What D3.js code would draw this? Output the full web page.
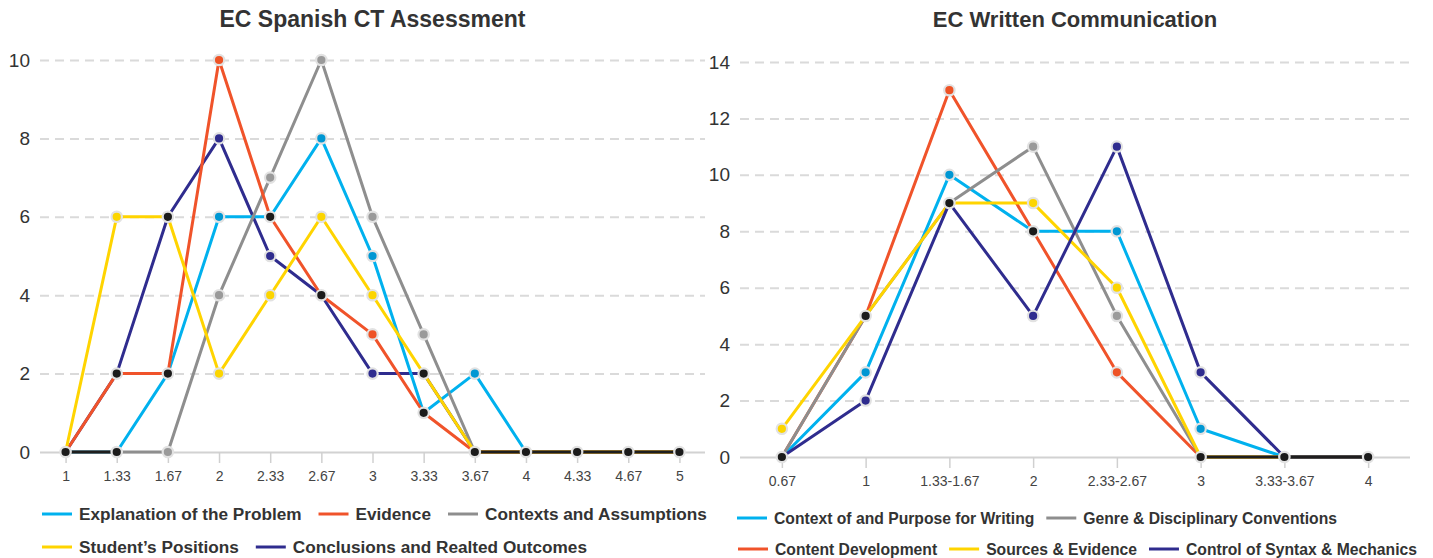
<!DOCTYPE html>
<html><head><meta charset="utf-8">
<script src="https://cdn.jsdelivr.net/npm/d3@7"></script>
<style>body{margin:0;background:#fff}svg{display:block;font-family:"Liberation Sans",Arial,Helvetica,sans-serif}</style>
</head><body>
<svg id="chart" width="1433" height="558"></svg>
<script>
// ---------- DATA ----------
const spanishTitle = "EC Spanish CT Assessment";
const spanishCategories = ["1","1.33","1.67","2","2.33","2.67","3","3.33","3.67","4","4.33","4.67","5"];
const spanishExplanation = [0,0,2,6,6,8,5,1,2,0,0,0,0];
const spanishEvidence    = [0,2,2,10,6,4,3,1,0,0,0,0,0];
const spanishContexts    = [0,0,0,4,7,10,6,3,0,0,0,0,0];
const spanishPositions   = [0,6,6,2,4,6,4,2,0,0,0,0,0];
const spanishConclusions = [0,2,6,8,5,4,2,2,0,0,0,0,0];
const spanishYTicks = [0,2,4,6,8,10];

const writtenTitle = "EC Written Communication";
const writtenCategories = ["0.67","1","1.33-1.67","2","2.33-2.67","3","3.33-3.67","4"];
const writtenContext = [0,3,10,8,8,1,0,0];
const writtenGenre   = [0,5,9,11,5,0,0,0];
const writtenContent = [0,5,13,8,3,0,0,0];
const writtenSources = [1,5,9,9,6,0,0,0];
const writtenSyntax  = [0,2,9,5,11,3,0,0];
const writtenYTicks = [0,2,4,6,8,10,12,14];

// ---------- STYLE ----------
const C = {
  blue:   {line:"#00b1ee", dot:"#0097d3"},
  red:    {line:"#f0532a", dot:"#ee5326"},
  gray:   {line:"#8e8e8e", dot:"#9a9a9a"},
  yellow: {line:"#ffd400", dot:"#fcd500"},
  navy:   {line:"#2f2c8e", dot:"#2f2c8e"}
};
const svg = d3.select("#chart");

function drawChart(cfg){
  const g = svg.append("g");
  const x = d3.scalePoint().domain(cfg.categories).range([cfg.x0, cfg.x1]).padding(0.5);
  const y = d3.scaleLinear().domain([0, d3.max(cfg.yTicks)]).range([cfg.y0, cfg.y1]);

  // y grid + labels
  const ga = g.append("g").attr("transform", `translate(${cfg.x0},0)`)
    .call(d3.axisLeft(y).tickValues(cfg.yTicks).tickSize(-(cfg.x1 - cfg.x0)).tickPadding(10));
  ga.select(".domain").remove();
  ga.selectAll(".tick line")
    .attr("stroke", d => d === 0 ? "#d2d2d2" : "#dadada")
    .attr("stroke-width", 2)
    .attr("stroke-dasharray", d => d === 0 ? null : "9,6");
  ga.selectAll(".tick text").attr("font-size", 19).attr("fill", "#333")
    .attr("font-family", '"Liberation Sans",Arial,sans-serif');

  // x axis ticks + labels
  const gx = g.append("g").attr("transform", `translate(0,${cfg.y0})`)
    .call(d3.axisBottom(x).tickSize(11).tickPadding(8));
  gx.select(".domain").remove();
  gx.selectAll(".tick line").attr("stroke", "#d0d0d0").attr("stroke-width", 1.5);
  gx.selectAll(".tick text").attr("font-size", 14).attr("fill", "#444")
    .attr("font-family", '"Liberation Sans",Arial,sans-serif');

  // title
  g.append("text").attr("x", (cfg.x0 + cfg.x1) / 2).attr("y", 27)
    .attr("text-anchor", "middle").attr("font-size", cfg.titleSize).attr("font-weight", "bold")
    .attr("fill", "#333").text(cfg.title);

  const line = d3.line().x(d => x(d.c)).y(d => y(d.v));
  const toPts = vals => vals.map((v, i) => ({c: cfg.categories[i], v}));

  // series lines in draw order
  cfg.drawOrder.forEach(idx => {
    const s = cfg.series[idx];
    g.append("path").datum(toPts(s.values)).attr("d", line)
      .attr("fill", "none").attr("stroke", s.color.line).attr("stroke-width", 3)
      .attr("stroke-linejoin", "round");
  });

  // shared zero segments drawn black
  const n = cfg.categories.length;
  for (let i = 0; i < n - 1; i++) {
    const cnt = cfg.series.filter(s => s.values[i] === 0 && s.values[i + 1] === 0).length;
    if (cnt >= 2) {
      g.append("path").datum([{c: cfg.categories[i], v: 0}, {c: cfg.categories[i + 1], v: 0}])
        .attr("d", line).attr("stroke", "#1e1e1e").attr("stroke-width", 3.2).attr("fill", "none");
    }
  }

  // dots: shared values -> black
  const dots = [];
  cfg.categories.forEach((c, i) => {
    const groups = d3.group(cfg.series, s => s.values[i]);
    groups.forEach((arr, v) => {
      dots.push({c, v, fill: arr.length >= 2 ? "#1b1b1b" : arr[0].color.dot, shared: arr.length >= 2});
    });
  });
  dots.sort((a, b) => a.shared - b.shared);
  g.selectAll("circle.pt").data(dots).join("circle").attr("class", "pt")
    .attr("cx", d => x(d.c)).attr("cy", d => y(d.v)).attr("r", 5.2)
    .attr("fill", d => d.fill).attr("stroke", "#e2e2e2").attr("stroke-width", 2.2);

  // legend
  cfg.legendRows.forEach(row => {
    let lx = row.x;
    row.items.forEach(idx => {
      const s = cfg.series[idx];
      g.append("line").attr("x1", lx).attr("x2", lx + 30).attr("y1", row.y).attr("y2", row.y)
        .attr("stroke", s.color.line).attr("stroke-width", 3);
      const t = g.append("text").attr("x", lx + 37).attr("y", row.y).attr("dy", "0.36em")
        .attr("font-size", cfg.legendSize).attr("font-weight", "bold").attr("fill", "#333").text(s.name);
      lx = lx + 37 + t.node().getComputedTextLength() + cfg.legendGap;
    });
  });
}

drawChart({
  title: spanishTitle, titleSize: 23,
  categories: spanishCategories,
  yTicks: spanishYTicks,
  x0: 40, x1: 705, y0: 452, y1: 60,
  series: [
    {name: "Explanation of the Problem", values: spanishExplanation, color: C.blue},
    {name: "Evidence", values: spanishEvidence, color: C.red},
    {name: "Contexts and Assumptions", values: spanishContexts, color: C.gray},
    {name: "Student\u2019s Positions", values: spanishPositions, color: C.yellow},
    {name: "Conclusions and Realted Outcomes", values: spanishConclusions, color: C.navy}
  ],
  drawOrder: [4, 0, 2, 1, 3],
  legendRows: [{x: 42, y: 514, items: [0, 1, 2]}, {x: 42, y: 547, items: [3, 4]}],
  legendGap: 17, legendSize: 17.2
});

drawChart({
  title: writtenTitle, titleSize: 22,
  categories: writtenCategories,
  yTicks: writtenYTicks,
  x0: 740, x1: 1410, y0: 457, y1: 62,
  series: [
    {name: "Context of and Purpose for Writing", values: writtenContext, color: C.blue},
    {name: "Genre & Disciplinary Conventions", values: writtenGenre, color: C.gray},
    {name: "Content Development", values: writtenContent, color: C.red},
    {name: "Sources & Evidence", values: writtenSources, color: C.yellow},
    {name: "Control of Syntax & Mechanics", values: writtenSyntax, color: C.navy}
  ],
  drawOrder: [2, 0, 1, 3, 4],
  legendRows: [{x: 737, y: 518, items: [0, 1]}, {x: 738, y: 549, items: [2, 3, 4]}],
  legendGap: 12, legendSize: 15.7
});
</script>
</body></html>
